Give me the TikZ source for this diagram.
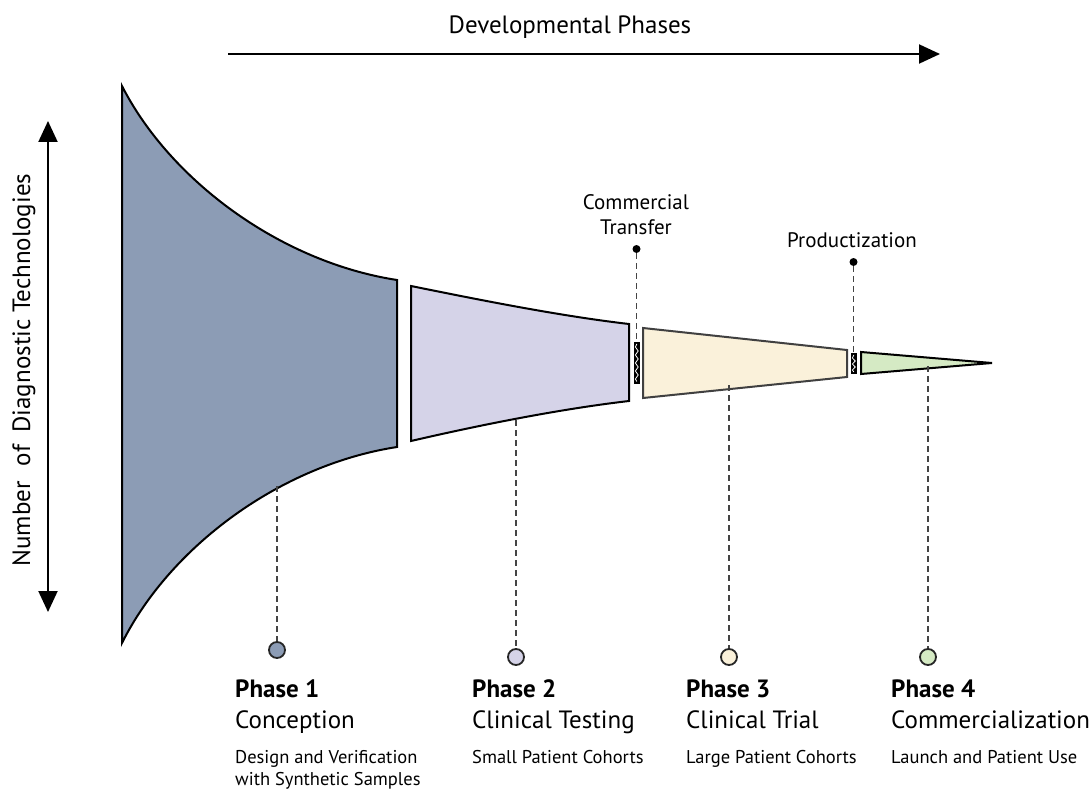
\documentclass[tikz,border=0pt]{standalone}
\usepackage{fontspec}
\setmainfont{PT Sans}
\usetikzlibrary{arrows.meta}
\definecolor{pone}{HTML}{8C9CB5}
\definecolor{ptwo}{HTML}{D5D3E8}
\definecolor{pthree}{HTML}{FAF1DA}
\definecolor{pfour}{HTML}{D5EAC4}
\definecolor{dashgray}{HTML}{444444}
\tikzset{
  funnel/.style={draw=black, line width=2pt, line join=miter},
  guide/.style={draw=dashgray, line width=1.2pt, dash pattern=on 6pt off 4pt},
  pdot/.style={circle, draw=black!85, line width=1.8pt, minimum size=16pt, inner sep=0pt},
  bdot/.style={circle, fill=black, minimum size=8pt, inner sep=0pt},
  phasetitle/.style={anchor=base west, font=\fontsize{25}{28}\selectfont\bfseries, inner sep=0pt},
  phasename/.style={anchor=base west, font=\fontsize{25}{28}\selectfont, inner sep=0pt},
  phasedesc/.style={anchor=base west, font=\fontsize{18.5}{22}\selectfont, inner sep=0pt, align=left},
  toplabel/.style={anchor=base, font=\fontsize{21}{25}\selectfont, align=center, inner sep=0pt},
  bigarrow/.style={line width=2pt, draw=black}
}
\begin{document}
\begin{tikzpicture}[x=1pt,y=-1pt]
\useasboundingbox (0,0) rectangle (1090,789);

% axes
\coordinate (xa) at (228,54);
\coordinate (xb) at (940,54);
\draw[bigarrow, -{Triangle[length=21pt,width=19pt]}] (xa) -- (xb);
\node[font=\fontsize{25}{28}\selectfont, inner sep=0pt, anchor=base] (xlab) at (570,34) {Developmental Phases};

\coordinate (ya) at (48,121);
\coordinate (yb) at (48,612);
\draw[bigarrow, {Triangle[length=21pt,width=19pt]}-{Triangle[length=21pt,width=19pt]}] (ya) -- (yb);
\node[rotate=90, font=\fontsize{25}{28}\selectfont, inner sep=0pt] (ylab) at (24,370) {Number\hspace{0.6em}of\hspace{0.5em}Diagnostic Technologies};

% funnel sections
\draw[funnel, fill=pone] (122,86) .. controls (170,180) and (280,262) .. (397,280) -- (397,447) .. controls (280,465) and (170,547) .. (122,643) -- cycle;
\draw[funnel, fill=ptwo] (411,286) .. controls (480,300) and (560,316) .. (629,324) -- (629,401) .. controls (560,409) and (480,425) .. (411,441) -- cycle;
\draw[funnel, fill=pthree, draw=black!75] (643,328) -- (847,350) -- (847,377) -- (643,398) -- cycle;
\draw[funnel, fill=pfour] (861,352) -- (992,363) -- (861,374) -- cycle;

% transfer joints
\fill[black] (634,342) rectangle (639.5,383.5);
\draw[white, line width=0.8pt] (636.8,344) -- (635.4,347) -- (638.2,351) -- (635.4,355) -- (638.2,359) -- (635.4,363) -- (638.2,367) -- (635.4,371) -- (638.2,375) -- (635.4,379) -- (636.8,381.5);
\fill[black] (851,353) rectangle (856.5,373.5);
\draw[white, line width=0.8pt] (853.8,355) -- (852.4,358) -- (855.2,361) -- (852.4,364) -- (855.2,367) -- (852.4,370) -- (853.8,372);

% event markers
\node[toplabel] (ctlab) at (636,234) {Commercial\\Transfer};
\node[bdot] (ct) at (636.5,249) {};
\coordinate (ctj) at (636.5,342);
\draw[guide] (ct) -- (ctj);

\node[toplabel] (prlab) at (852,247) {Productization};
\node[bdot] (pr) at (853.5,262) {};
\coordinate (prj) at (853.5,353);
\draw[guide] (pr) -- (prj);

% phase guides
\coordinate (s1) at (277,486);
\coordinate (s2) at (516,420);
\coordinate (s3) at (729,385);
\coordinate (s4) at (928,366);
\node[pdot, fill=pone] (c1) at (277,650) {};
\node[pdot, fill=ptwo] (c2) at (516,657) {};
\node[pdot, fill=pthree] (c3) at (729,657) {};
\node[pdot, fill=pfour] (c4) at (928,657) {};
\draw[guide] (s1) -- (c1);
\draw[guide] (s2) -- (c2);
\draw[guide] (s3) -- (c3);
\draw[guide] (s4) -- (c4);

% phase labels
\node[phasetitle] (t1) at (235,697) {Phase 1};
\node[phasename] (n1) at (235,728) {Conception};
\node[phasedesc] (d1) at (235,785) {Design and Verification\\with Synthetic Samples};

\node[phasetitle] (t2) at (472,697) {Phase 2};
\node[phasename] (n2) at (472,728) {Clinical Testing};
\node[phasedesc] (d2) at (472,763) {Small Patient Cohorts};

\node[phasetitle] (t3) at (686,697) {Phase 3};
\node[phasename] (n3) at (686,728) {Clinical Trial};
\node[phasedesc] (d3) at (686,763) {Large Patient Cohorts};

\node[phasetitle] (t4) at (891,697) {Phase 4};
\node[phasename] (n4) at (891,728) {Commercialization};
\node[phasedesc] (d4) at (891,763) {Launch and Patient Use};
\end{tikzpicture}
\end{document}
